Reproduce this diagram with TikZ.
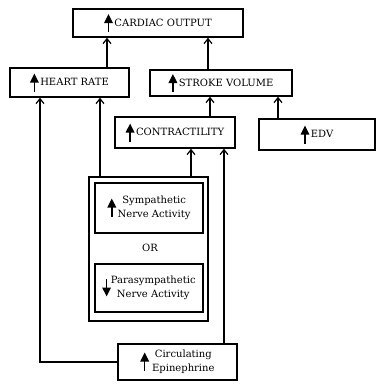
\documentclass[tikz,border=0pt]{standalone}
\usepackage{fontspec}
\setmainfont{DejaVu Serif}
\usetikzlibrary{arrows.meta}
\newcommand{\uparr}{\tikz[baseline={([yshift=-3pt]current bounding box.center)}]\draw[line width=1.6pt,-{Triangle[length=9pt,width=8.5pt]}] (0,0) -- (0,18pt);}
\newcommand{\downarr}{\tikz[baseline={([yshift=-3pt]current bounding box.center)}]\draw[line width=1.6pt,-{Triangle[length=9pt,width=8.5pt]}] (0,18pt) -- (0,0);}
\begin{document}
\begin{tikzpicture}[x=1pt,y=-1pt,every node/.style={font=\fontsize{10}{14}\selectfont}]
        \tikzset{box/.style = {draw,line width=1.4pt,inner sep=0pt,align=center},
                 edge/.style = {-{Straight Barb[length=5pt,width=8pt]},line width=1.2pt}}
        \useasboundingbox (0,0) rectangle (378,384);
        \node[box,minimum width=170pt,minimum height=28pt] (co) at (158,23) {\uparr\,CARDIAC OUTPUT};
        \node[box,minimum width=119pt,minimum height=29pt] (hr) at (69.5,82.5) {\uparr\,HEART RATE};
        \node[box,minimum width=142pt,minimum height=26pt] (sv) at (221,83) {\uparr\,STROKE VOLUME};
        \node[box,minimum width=120pt,minimum height=31pt] (con) at (175,132.5) {\uparr\,CONTRACTILITY};
        \node[box,minimum width=116pt,minimum height=31pt] (edv) at (317,134.5) {\uparr\,EDV};
        \node[box,minimum width=119pt,minimum height=144pt] (outer) at (148.5,249) {};
        \node[box,minimum width=108pt,minimum height=50pt] (sym) at (149,208) {\uparr\,\begin{tabular}{@{}c@{}}Sympathetic\\Nerve Activity\end{tabular}};
        \node (or) at (150,248) {OR};
        \node[box,minimum width=108pt,minimum height=48pt] (para) at (149,288) {\downarr\begin{tabular}{@{}c@{}}Parasympathetic\\Nerve Activity\end{tabular}};
        \node[box,minimum width=119pt,minimum height=36pt] (epi) at (177.5,362) {\uparr\ \begin{tabular}{@{}c@{}}Circulating\\Epinephrine\end{tabular}};
        
        \coordinate (x1) at (107,0);
        \coordinate (x2) at (208,0);
        \coordinate (x3) at (210,0);
        \coordinate (x4) at (278,0);
        \coordinate (x5) at (100,0);
        \coordinate (x6) at (191,0);
        \coordinate (x7) at (224,0);
        \coordinate (x8) at (40,0);
        
        \draw[edge] (hr.north -| x1) to (co.south -| x1);
        \draw[edge] (sv.north -| x2) to (co.south -| x2);
        \draw[edge] (con.north -| x3) to (sv.south -| x3);
        \draw[edge] (edv.north -| x4) to (sv.south -| x4);
        
        \draw[edge] (outer.north -| x5) to (hr.south -| x5);
        \draw[edge] (outer.north -| x6) to (con.south -| x6);
        \draw[edge] (epi.north -| x7) to (con.south -| x7);
        \draw[edge] (epi.west) -| (x8 |- hr.south);
\end{tikzpicture}
\end{document}
